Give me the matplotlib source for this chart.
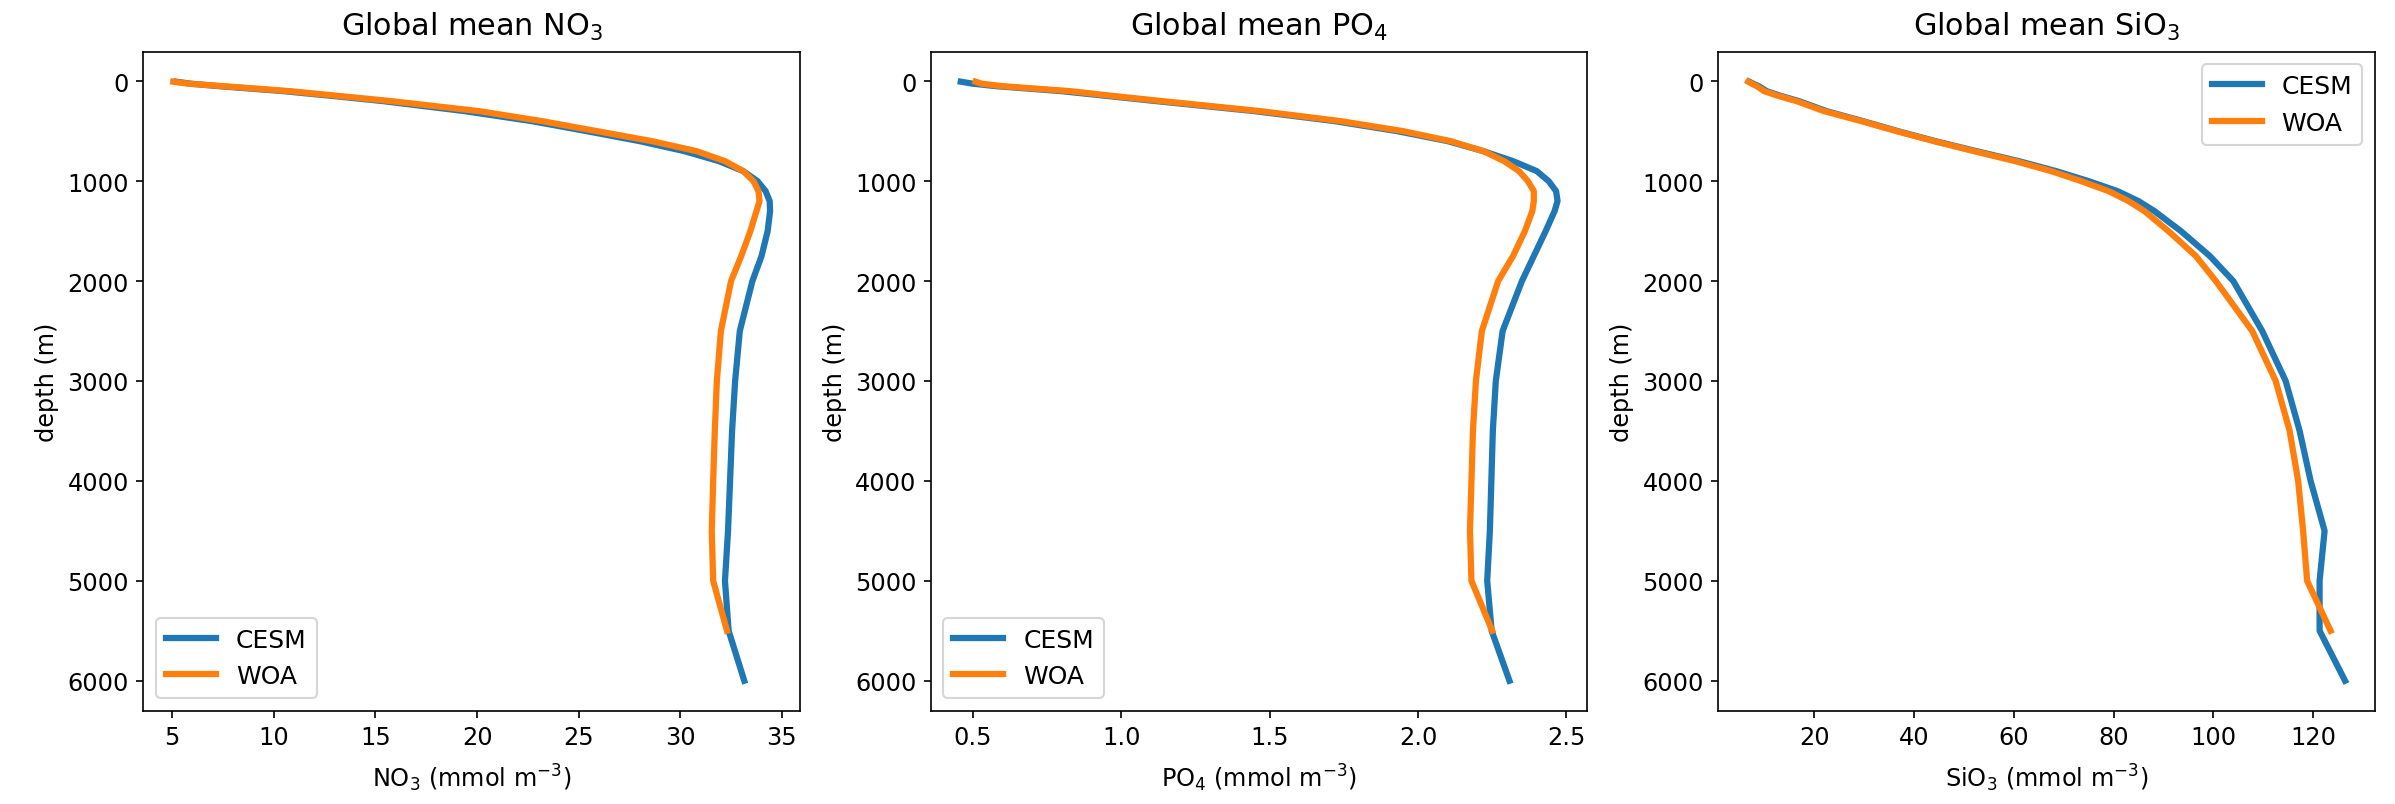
import matplotlib
matplotlib.use("Agg")
import matplotlib.pyplot as plt

depth = [5, 25, 50, 100, 150, 200, 300, 400, 500, 600, 700, 800, 900, 1000,
         1100, 1200, 1300, 1500, 1750, 2000, 2500, 3000, 3500, 4000, 4500,
         5000, 5500, 6000]
depth_woa = depth[:-1]

no3_cesm = [5.2, 5.9, 7.3, 10.5, 13.0, 15.4, 19.4, 22.7, 25.4, 28.0, 30.2, 31.9,
            33.1, 33.8, 34.2, 34.4, 34.42, 34.3, 34.0, 33.55, 32.93, 32.7, 32.55,
            32.45, 32.35, 32.2, 32.38, 33.15]
no3_woa = [5.05, 5.8, 7.5, 10.8, 13.3, 15.8, 20.1, 23.2, 25.9, 28.6, 30.8, 32.2,
           33.1, 33.6, 33.85, 33.9, 33.75, 33.45, 33.0, 32.5, 32.0, 31.8, 31.7,
           31.62, 31.55, 31.62, 32.3]

po4_cesm = [0.46, 0.50, 0.58, 0.80, 0.96, 1.12, 1.45, 1.72, 1.93, 2.10, 2.22, 2.32,
            2.40, 2.44, 2.465, 2.47, 2.46, 2.43, 2.39, 2.35, 2.285, 2.262, 2.252,
            2.247, 2.242, 2.233, 2.248, 2.308]
po4_woa = [0.51, 0.53, 0.60, 0.83, 0.98, 1.14, 1.47, 1.74, 1.95, 2.11, 2.22, 2.29,
           2.34, 2.37, 2.39, 2.39, 2.385, 2.36, 2.32, 2.27, 2.215, 2.195, 2.185,
           2.18, 2.175, 2.18, 2.25]

sio3_cesm = [7.0, 7.8, 8.9, 10.5, 13.5, 17.0, 22.5, 29.8, 36.8, 44.3, 52.5, 61.0,
             68.5, 75.0, 80.8, 85.0, 88.2, 93.5, 99.3, 104.0, 109.8, 114.5, 117.3,
             119.5, 122.3, 121.3, 121.3, 126.4]
sio3_woa = [6.8, 7.5, 8.5, 10.0, 13.0, 16.5, 22.0, 29.5, 36.5, 44.0, 52.0, 60.3,
            67.5, 73.5, 79.0, 83.0, 86.2, 91.0, 96.5, 100.5, 107.8, 112.5, 115.3,
            117.0, 118.0, 118.8, 123.5]

titles = ["Global mean NO$_3$", "Global mean PO$_4$", "Global mean SiO$_3$"]
xlabels = ["NO$_3$ (mmol m$^{-3}$)", "PO$_4$ (mmol m$^{-3}$)", "SiO$_3$ (mmol m$^{-3}$)"]
xticks = [[5, 10, 15, 20, 25, 30, 35],
          [0.5, 1.0, 1.5, 2.0, 2.5],
          [20, 40, 60, 80, 100, 120]]
yticks = [0, 1000, 2000, 3000, 4000, 5000, 6000]
legend_locs = ["lower left", "lower left", "upper right"]

plt.rcParams["font.family"] = ["DejaVu Sans"]
fig, axes = plt.subplots(1, 3, figsize=(2395 / 150, 805 / 150), dpi=150)
fig.subplots_adjust(left=0.0599, right=0.9916, bottom=0.1159, top=0.9345, wspace=0.1996)

series = [(no3_cesm, no3_woa), (po4_cesm, po4_woa), (sio3_cesm, sio3_woa)]
for ax, (c, w), t, xl, xt, loc in zip(axes, series, titles, xlabels, xticks, legend_locs):
    ax.plot(c, depth, color="#1f77b4", lw=3, label="CESM")
    ax.plot(w, depth_woa, color="#ff7f0e", lw=3, label="WOA")
    ax.invert_yaxis()
    ax.set_title(t, fontsize=14.5, pad=8)
    ax.set_xlabel(xl, fontsize=11.5, labelpad=6)
    ax.set_ylabel("depth (m)", fontsize=11.5)
    ax.set_xticks(xt)
    ax.set_yticks(yticks)
    ax.tick_params(labelsize=11.5)
    ax.legend(loc=loc, fontsize=12)

fig.savefig("out.png", dpi=150)
